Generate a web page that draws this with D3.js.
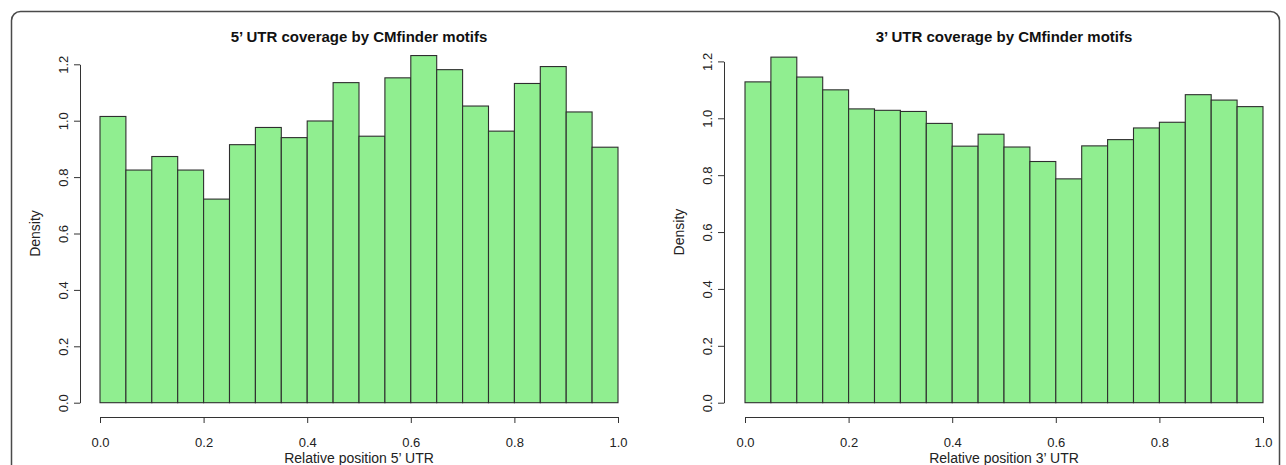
<!DOCTYPE html>
<html>
<head>
<meta charset="utf-8">
<script src="https://cdn.jsdelivr.net/npm/d3@7"></script>
<style>
  html, body { margin: 0; padding: 0; background: #fff; }
  svg { display: block; font-family: "Liberation Sans", Arial, Helvetica, sans-serif; }
</style>
</head>
<body>
<div id="chart"></div>
<script>
// bin edges (relative position), 20 bins of width 0.05
const binEdges = d3.range(0, 21).map(i => i / 20);

// densities
const utr5Density = [1.015, 0.825, 0.873, 0.825, 0.722, 0.915, 0.976, 0.940, 0.999, 1.135,
                     0.945, 1.152, 1.231, 1.181, 1.052, 0.963, 1.132, 1.192, 1.031, 0.906];
const utr3Density = [1.128, 1.215, 1.145, 1.100, 1.033, 1.028, 1.024, 0.982, 0.902, 0.944,
                     0.899, 0.848, 0.787, 0.903, 0.925, 0.966, 0.986, 1.083, 1.064, 1.041];

const xTicks = [0, 0.2, 0.4, 0.6, 0.8, 1.0];
const yTicks = [0, 0.2, 0.4, 0.6, 0.8, 1.0, 1.2];

const titles = ["5\u2019 UTR coverage by CMfinder motifs", "3\u2019 UTR coverage by CMfinder motifs"];
const xLabels = ["Relative position 5\u2019 UTR", "Relative position 3\u2019 UTR"];
const yLabel = "Density";

const width = 1286, height = 465;

const svg = d3.select('#chart')
  .append('svg')
  .attr('width', width)
  .attr('height', height)
  .attr('viewBox', `0 0 ${width} ${height}`);

// outer rounded frame
svg.append('rect')
  .attr('x', 11.5)
  .attr('y', 11.5)
  .attr('width', 1268)
  .attr('height', 520)
  .attr('rx', 9)
  .attr('fill', 'none')
  .attr('stroke', '#4a4a4a')
  .attr('stroke-width', 1.5);

const panels = [
  { values: utr5Density, xRange: [100, 618], yRange: [402.7, 64.3], axisX: 80, title: titles[0], xLabel: xLabels[0] },
  { values: utr3Density, xRange: [745, 1263], yRange: [402.7, 61.4], axisX: 724, title: titles[1], xLabel: xLabels[1] }
];

panels.forEach(drawPanel);

function drawPanel(p) {
  const x = d3.scaleLinear().domain([0, 1]).range(p.xRange);
  const y = d3.scaleLinear().domain([0, 1.2]).range(p.yRange);
  const axisY = 417;
  const g = svg.append('g');

  // bars
  const bins = p.values.map((v, i) => ({ x0: binEdges[i], x1: binEdges[i + 1], value: v }));
  g.selectAll('rect.bar')
    .data(bins)
    .enter()
    .append('rect')
    .attr('class', 'bar')
    .attr('x', d => x(d.x0))
    .attr('y', d => y(d.value))
    .attr('width', d => x(d.x1) - x(d.x0))
    .attr('height', d => y(0) - y(d.value))
    .attr('fill', '#90ee90')
    .attr('stroke', '#2e2e2e')
    .attr('stroke-width', 1.1);

  // x axis
  const xAxis = g.append('g')
    .attr('transform', `translate(0,${axisY})`)
    .call(d3.axisBottom(x).tickValues(xTicks).tickFormat(d3.format('.1f')).tickSize(6).tickSizeOuter(0).tickPadding(15));
  styleAxis(xAxis);

  // y axis
  const yAxis = g.append('g')
    .attr('transform', `translate(${p.axisX},0)`)
    .call(d3.axisLeft(y).tickValues(yTicks).tickFormat(d3.format('.1f')).tickSize(6).tickSizeOuter(0));
  styleAxis(yAxis);
  yAxis.selectAll('.tick text')
    .attr('x', 0)
    .attr('y', -12)
    .attr('dy', 0)
    .attr('transform', 'rotate(-90)')
    .style('text-anchor', 'middle');

  // title
  g.append('text')
    .attr('x', (p.xRange[0] + p.xRange[1]) / 2)
    .attr('y', 42)
    .attr('text-anchor', 'middle')
    .attr('font-size', 15)
    .attr('font-weight', 'bold')
    .attr('fill', '#111')
    .text(p.title);

  // x label
  g.append('text')
    .attr('x', (p.xRange[0] + p.xRange[1]) / 2)
    .attr('y', 463)
    .attr('text-anchor', 'middle')
    .attr('font-size', 14)
    .attr('fill', '#222')
    .text(p.xLabel);

  // y label
  g.append('text')
    .attr('transform', `translate(${p.axisX - 40},${(y(0) + y(1.2)) / 2}) rotate(-90)`)
    .attr('text-anchor', 'middle')
    .attr('font-size', 14)
    .attr('fill', '#222')
    .text(yLabel);
}

function styleAxis(sel) {
  sel.select('.domain').attr('stroke', '#333').attr('stroke-width', 1);
  sel.selectAll('.tick line').attr('stroke', '#333').attr('stroke-width', 1);
  sel.selectAll('.tick text')
    .attr('font-size', 13)
    .attr('font-family', '"Liberation Sans", Arial, sans-serif')
    .attr('fill', '#222');
}
</script>
</body>
</html>
